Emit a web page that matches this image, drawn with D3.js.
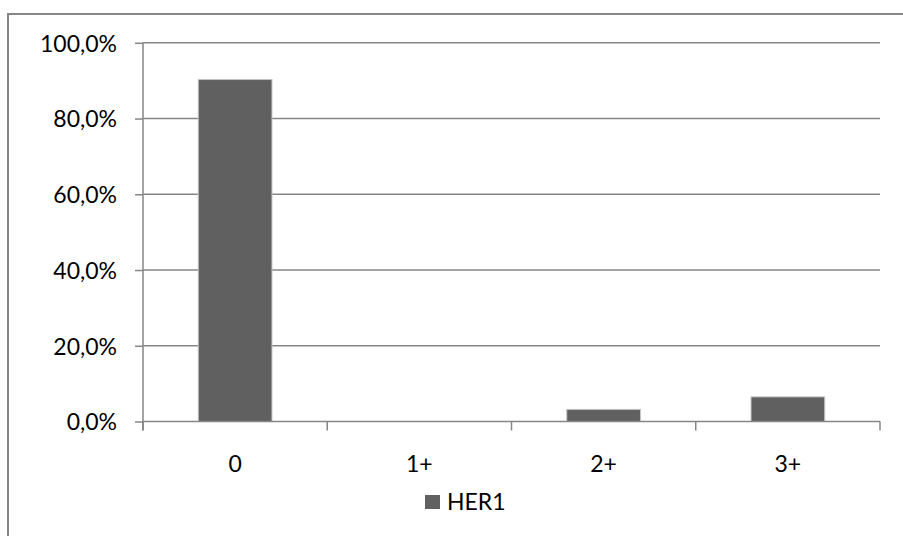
<!DOCTYPE html>
<html>
<head>
<meta charset="utf-8">
<script src="https://cdn.jsdelivr.net/npm/d3@7"></script>
<style>
  html, body { margin: 0; padding: 0; background: #fff; overflow: hidden; }
  svg { display: block; }
  text { font-family: Lato, "Open Sans", sans-serif; fill: #000; }
</style>
</head>
<body>
<svg id="chart" width="903" height="536"></svg>
<script>
const categories = ["0", "1+", "2+", "3+"];
const seriesName = "HER1";
const values = [90.3, 0.0, 3.2, 6.5];
const yTicks = [0, 20, 40, 60, 80, 100];
const yTickLabels = ["0,0%", "20,0%", "40,0%", "60,0%", "80,0%", "100,0%"];

(function () {
const svg = d3.select("#chart");
const pLeft = 143, pRight = 880, pTop = 42.8, pBottom = 421.5;
const gridColor = "#868686";
const barColor = "#606060";
const fontSize = 23;

// outer frame: only left and top edges are visible
svg.append("path")
  .attr("d", "M8,540 L8,14 L910,14")
  .attr("fill", "none").attr("stroke", gridColor).attr("stroke-width", 2);

const x = d3.scaleBand().domain(categories).range([pLeft, pRight]).paddingInner(0.6).paddingOuter(0.3);
const xOuter = d3.scaleBand().domain(categories).range([pLeft, pRight]);
const y = d3.scaleLinear().domain([0, 100]).range([pBottom, pTop]);

// gridlines
svg.append("g").selectAll("line").data(yTicks.filter(d => d > 0)).join("line")
  .attr("x1", pLeft).attr("x2", pRight)
  .attr("y1", d => y(d)).attr("y2", d => y(d))
  .attr("stroke", gridColor).attr("stroke-width", 1.5);

// y axis
const yAxis = d3.axisLeft(y).tickValues(yTicks)
  .tickFormat((d, i) => yTickLabels[i]).tickSize(8).tickPadding(18);
const gy = svg.append("g").attr("transform", `translate(${pLeft},0)`).call(yAxis);
gy.select(".domain").remove();
gy.append("line").attr("x1", 0).attr("x2", 0).attr("y1", pTop).attr("y2", pBottom + 9)
  .attr("stroke", gridColor).attr("stroke-width", 1.5);
gy.selectAll(".tick line").attr("stroke", gridColor).attr("stroke-width", 1.5);
gy.selectAll(".tick text").attr("font-size", fontSize).attr("fill", "#000")
  .attr("font-family", "Lato, 'Open Sans', sans-serif").attr("dy", "0.36em");

// bars
svg.append("g").selectAll("rect").data(values).join("rect")
  .attr("x", (d, i) => x(categories[i]))
  .attr("width", x.bandwidth())
  .attr("y", d => y(d))
  .attr("height", d => y(0) - y(d))
  .attr("fill", barColor)
  .attr("stroke", d => d > 0 ? "#c4c4c4" : "none")
  .attr("stroke-width", 1);

// x axis
const gx = svg.append("g");
gx.append("line").attr("x1", pLeft).attr("x2", pRight).attr("y1", pBottom).attr("y2", pBottom)
  .attr("stroke", gridColor).attr("stroke-width", 1.5);
const boundaries = categories.map(c => xOuter(c)).concat([pRight]);
gx.selectAll("line.tk").data(boundaries).join("line").attr("class", "tk")
  .attr("x1", d => d).attr("x2", d => d).attr("y1", pBottom).attr("y2", pBottom + 9)
  .attr("stroke", gridColor).attr("stroke-width", 1.5);
gx.selectAll("text").data(categories).join("text")
  .attr("x", d => xOuter(d) + xOuter.bandwidth() / 2)
  .attr("y", 472)
  .attr("text-anchor", "middle")
  .attr("font-size", fontSize)
  .text(d => d);

// legend
const lg = svg.append("g");
lg.append("rect").attr("x", 425).attr("y", 495).attr("width", 15).attr("height", 14).attr("fill", barColor);
lg.append("text").attr("x", 447).attr("y", 509.5).attr("font-size", fontSize).text(seriesName);
})();
</script>
</body>
</html>
